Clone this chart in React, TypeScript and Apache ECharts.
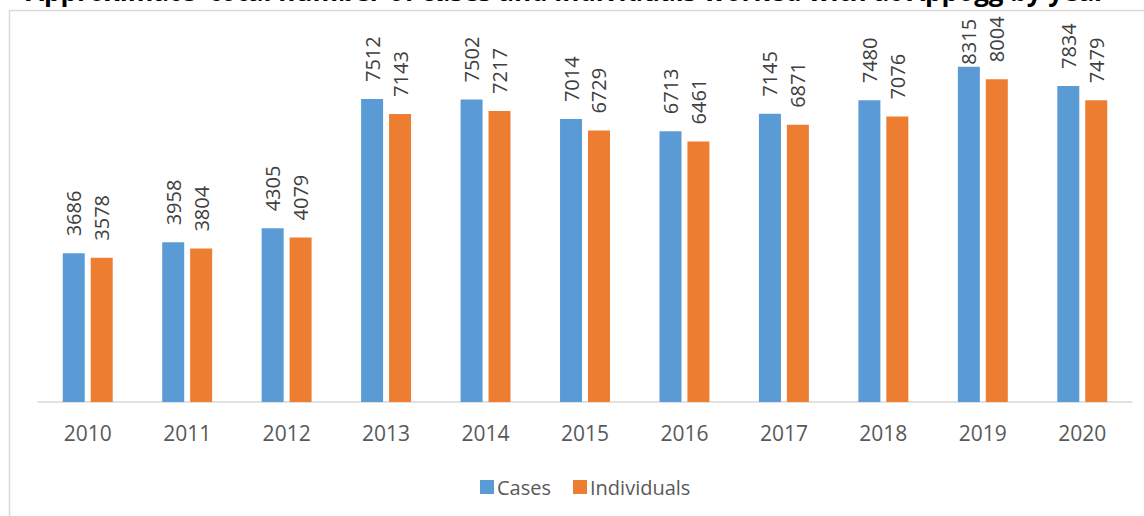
import React, { useEffect, useRef } from "react";
import * as echarts from "echarts";

const titleText = "Approximate  total number of cases and individuals worked with at Appogg by year";
const years = ["2010", "2011", "2012", "2013", "2014", "2015", "2016", "2017", "2018", "2019", "2020"];
const cases = [3686, 3958, 4305, 7512, 7502, 7014, 6713, 7145, 7480, 8315, 7834];
const individuals = [3578, 3804, 4079, 7143, 7217, 6729, 6461, 6871, 7076, 8004, 7479];
const seriesNames = ["Cases", "Individuals"];

const FONT = "'Open Sans', 'Noto Sans', sans-serif";

export default function App() {
  const ref = useRef<HTMLDivElement>(null);
  useEffect(() => {
    if (!ref.current) return;
    const chart = echarts.init(ref.current, null, { renderer: "svg" });
    const labelBase = {
      show: true,
      position: "top" as const,
      rotate: 90,
      align: "left" as const,
      verticalAlign: "middle" as const,
      distance: 17,
      color: "#404040",
      fontSize: 20,
      fontFamily: FONT,
    };
    const maxIdx = cases.indexOf(Math.max(...cases));
    chart.setOption({
      animation: false,
      backgroundColor: "#ffffff",
      graphic: [
        {
          type: "rect",
          shape: { x: 9.5, y: 10.5, width: 1200, height: 600 },
          style: { fill: "none", stroke: "#d9d9d9", lineWidth: 1.5 },
          silent: true,
          z: -1,
        },
        {
          type: "text",
          x: 566,
          y: 4,
          style: {
            text: titleText,
            font: `bold 26px ${FONT}`,
            fill: "#000000",
            textAlign: "center",
            textVerticalAlign: "bottom",
          },
        },
      ],
      legend: {
        data: seriesNames,
        left: 475,
        top: 472,
        icon: "rect",
        itemWidth: 14,
        itemHeight: 14,
        itemGap: 22,
        textStyle: { color: "#595959", fontSize: 20, fontFamily: FONT, padding: [0, 0, 0, -2] },
      },
      grid: { left: 38, right: 12, top: 39, bottom: 114, containLabel: false },
      xAxis: {
        type: "category",
        data: years,
        axisLine: { lineStyle: { color: "#d9d9d9", width: 1.5 } },
        axisTick: { show: false },
        axisLabel: { color: "#595959", fontSize: 21, fontFamily: FONT, margin: 20 },
      },
      yAxis: {
        type: "value",
        min: 0,
        max: 9000,
        show: false,
        splitLine: { show: false },
      },
      series: [
        {
          name: seriesNames[0],
          type: "bar",
          data: cases.map((v, i) => (i === maxIdx ? { value: v, label: { distance: 2 } } : v)),
          itemStyle: { color: "#5b9bd5" },
          barWidth: 22,
          barGap: "27%",
          label: labelBase,
        },
        {
          name: seriesNames[1],
          type: "bar",
          data: individuals,
          itemStyle: { color: "#ed7d31" },
          barWidth: 22,
          barGap: "27%",
          label: labelBase,
        },
      ],
    });
    return () => chart.dispose();
  }, []);
  return (
    <div
      ref={ref}
      style={{ position: "fixed", left: 0, top: 0, width: 1144, height: 516, background: "#fff" }}
    />
  );
}
